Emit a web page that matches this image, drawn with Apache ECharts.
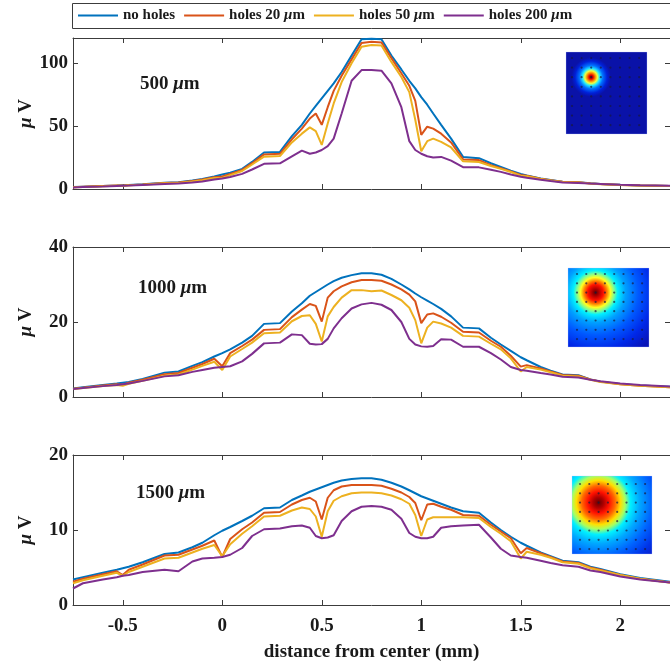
<!DOCTYPE html>
<html>
<head>
<meta charset="utf-8">
<script src="https://cdn.jsdelivr.net/npm/echarts@6/dist/echarts.min.js"></script>
<style>
  html, body { margin: 0; padding: 0; background: #fff; }
  #chart { width: 670px; height: 666px; }
</style>
</head>
<body>
<div id="chart"></div>
<script>
// Sample positions along the line (mm from the electrode-array center)
const distanceMm = [-0.75, -0.7, -0.6, -0.53, -0.5, -0.47, -0.4, -0.29, -0.22, -0.15, -0.1, -0.04,
  0, 0.04, 0.1, 0.15, 0.21, 0.29, 0.35, 0.4, 0.44, 0.47, 0.5, 0.53, 0.56, 0.6, 0.65,
  0.7, 0.75, 0.8, 0.85, 0.9, 0.94, 0.97, 1.0, 1.03, 1.06, 1.1, 1.15, 1.21, 1.29, 1.35,
  1.4, 1.45, 1.5, 1.53, 1.6, 1.65, 1.71, 1.79, 1.85, 1.9, 2.0, 2.1, 2.25];

// Source depth 500 um (uV)
const noHoles500 = [1.5, 1.8, 2.4, 2.8, 3.0, 3.2, 3.8, 5.0, 5.4, 6.8, 8.0, 10.0,
  11.5, 13.0, 16.0, 21.5, 29.0, 29.5, 42.0, 51.0, 60.0, 66.0, 72.0, 78.0, 84.0, 93.0, 106.0,
  119.0, 119.5, 119.0, 106.0, 95.0, 86.0, 80.0, 73.0, 67.0, 60.0, 51.0, 40.0, 25.5, 24.5, 20.5,
  17.5, 14.5, 12.0, 10.8, 8.4, 7.2, 5.8, 5.4, 4.5, 4.0, 3.3, 2.8, 2.3];
const holes20_500 = [1.4, 1.7, 2.3, 2.7, 2.7, 3.0, 3.6, 4.8, 5.1, 6.4, 7.5, 9.3,
  10.0, 12.0, 15.2, 20.5, 27.5, 28.0, 39.5, 48.0, 56.0, 60.0, 51.0, 65.0, 78.0, 90.0, 103.0,
  116.0, 117.0, 116.5, 104.0, 92.0, 82.0, 70.0, 43.0, 49.5, 48.0, 44.0, 37.0, 23.5, 23.0, 19.0,
  16.5, 14.0, 11.2, 10.5, 8.2, 7.0, 5.7, 5.3, 4.4, 3.9, 3.2, 2.8, 2.3];
const holes50_500 = [1.3, 1.6, 2.2, 2.6, 2.4, 2.9, 3.4, 4.5, 4.8, 6.0, 7.0, 8.8,
  8.8, 11.0, 14.3, 19.5, 25.7, 26.2, 37.0, 44.0, 49.0, 46.0, 35.0, 52.0, 68.0, 85.0, 100.0,
  113.0, 114.5, 114.0, 101.0, 89.0, 77.0, 55.0, 30.0, 38.0, 40.0, 37.5, 33.0, 22.0, 21.5, 18.3,
  16.0, 13.5, 10.6, 10.2, 8.0, 6.8, 5.5, 5.2, 4.3, 3.8, 3.2, 2.8, 2.3];
const holes200_500 = [1.2, 1.5, 2.0, 2.4, 2.5, 2.7, 3.2, 4.0, 4.3, 5.2, 6.0, 7.5,
  8.3, 9.5, 12.0, 15.5, 20.0, 20.4, 26.0, 30.5, 28.0, 29.0, 31.0, 34.0, 40.0, 60.0, 86.0,
  94.5, 94.5, 94.0, 84.0, 65.0, 38.0, 31.0, 28.0, 26.0, 25.0, 25.5, 22.5, 17.3, 17.2, 15.3,
  13.6, 11.5, 9.8, 9.0, 7.4, 6.3, 5.2, 4.8, 4.3, 4.0, 3.4, 3.0, 2.6];

// Source depth 1000 um (uV)
const noHoles1000 = [2.3, 2.6, 3.2, 3.6, 3.8, 4.0, 4.8, 6.5, 6.8, 8.3, 9.3, 10.8,
  11.7, 12.7, 14.5, 16.3, 19.5, 19.7, 22.8, 25.0, 27.0, 28.0, 29.0, 30.0, 30.9, 31.8, 32.5,
  33.0, 33.0, 32.6, 31.5, 30.0, 28.7, 27.6, 26.6, 25.7, 24.8, 23.5, 21.5, 18.5, 18.3, 15.8,
  14.0, 12.3, 10.6, 9.8, 8.0, 7.0, 6.0, 5.8, 4.7, 4.1, 3.5, 3.1, 2.7];
const holes20_1000 = [2.2, 2.5, 3.1, 3.4, 3.3, 3.8, 4.6, 6.1, 6.4, 7.8, 8.8, 10.2,
  8.2, 11.7, 13.6, 15.3, 17.9, 18.1, 21.3, 23.3, 24.8, 24.3, 20.1, 26.5, 28.2, 29.5, 30.6,
  31.2, 31.2, 31.0, 30.0, 28.7, 27.3, 25.5, 19.7, 22.0, 22.3, 21.4, 19.8, 17.4, 17.2, 15.0,
  13.4, 11.0, 8.1, 8.5, 7.6, 6.8, 5.9, 5.7, 4.7, 4.1, 3.4, 3.0, 2.6];
const holes50_1000 = [2.1, 2.4, 2.9, 3.2, 3.0, 3.5, 4.3, 5.7, 6.0, 7.3, 8.3, 9.4,
  7.2, 10.8, 12.8, 14.5, 17.0, 17.2, 20.2, 21.6, 21.8, 19.5, 14.8, 21.5, 24.0, 26.5, 28.5,
  28.5, 28.2, 28.4, 27.2, 25.8, 23.8, 20.5, 14.3, 18.5, 20.1, 19.6, 18.5, 16.3, 16.1, 14.2,
  12.7, 10.3, 6.8, 8.0, 7.3, 6.6, 5.7, 5.5, 4.6, 4.0, 3.4, 3.0, 2.6];
const holes200_1000 = [2.1, 2.4, 2.9, 3.2, 3.4, 3.6, 4.3, 5.5, 5.8, 6.7, 7.2, 7.8,
  8.0, 8.2, 9.5, 11.5, 14.3, 14.5, 16.7, 16.5, 14.2, 14.0, 14.1, 15.5, 18.3, 21.0, 23.6,
  24.7, 25.1, 24.6, 23.2, 20.0, 15.5, 14.0, 13.5, 13.4, 13.6, 15.4, 15.3, 13.4, 13.4, 11.7,
  10.0, 8.0, 7.2, 7.0, 6.4, 6.0, 5.4, 5.2, 4.6, 4.2, 3.6, 3.2, 2.8];

// Source depth 1500 um (uV)
const noHoles1500 = [3.4, 3.7, 4.3, 4.7, 4.9, 5.1, 5.7, 6.8, 7.0, 7.7, 8.3, 9.3,
  9.9, 10.4, 11.2, 11.9, 12.9, 13.0, 14.0, 14.6, 15.1, 15.4, 15.7, 16.0, 16.3, 16.6, 16.8,
  16.9, 16.9, 16.7, 16.3, 15.8, 15.3, 14.9, 14.5, 14.2, 13.9, 13.5, 13.0, 12.5, 12.3, 11.0,
  10.0, 9.1, 8.3, 7.9, 7.0, 6.5, 5.9, 5.7, 5.1, 4.8, 4.1, 3.6, 3.1];
const holes20_1500 = [3.1, 3.5, 4.1, 4.5, 4.0, 4.7, 5.4, 6.6, 6.7, 7.4, 7.9, 8.6,
  6.4, 8.8, 10.1, 11.0, 12.3, 12.4, 13.4, 14.0, 14.3, 13.8, 11.4, 14.3, 15.3, 15.8, 16.0,
  16.0, 16.0, 15.9, 15.5, 15.0, 14.4, 13.6, 11.3, 13.4, 13.5, 13.1, 12.7, 12.0, 11.9, 10.7,
  9.8, 8.9, 6.9, 7.6, 6.9, 6.4, 5.8, 5.6, 5.0, 4.7, 4.0, 3.5, 3.0];
const holes50_1500 = [2.9, 3.3, 3.9, 4.3, 3.9, 4.4, 5.1, 6.2, 6.3, 7.0, 7.5, 8.0,
  6.5, 8.1, 9.5, 10.5, 11.8, 11.9, 12.6, 13.0, 12.8, 11.8, 9.1, 12.5, 13.9, 14.5, 14.9,
  15.0, 15.0, 14.9, 14.6, 14.1, 13.5, 12.0, 9.2, 11.4, 11.7, 11.7, 11.7, 11.7, 11.6, 10.4,
  9.5, 8.5, 6.2, 7.1, 6.7, 6.3, 5.7, 5.5, 4.9, 4.6, 4.0, 3.5, 3.0];
const holes200_1500 = [2.2, 2.9, 3.4, 3.7, 3.9, 4.0, 4.4, 4.7, 4.5, 5.8, 6.2, 6.3,
  6.4, 6.7, 7.6, 9.2, 10.1, 10.2, 10.5, 10.6, 10.3, 9.2, 8.9, 9.0, 9.3, 11.2, 12.5,
  13.1, 13.2, 13.1, 12.7, 11.5, 9.6, 9.1, 8.9, 8.9, 9.1, 10.3, 10.5, 10.6, 10.7, 9.0,
  7.5, 6.6, 6.4, 6.3, 5.9, 5.6, 5.3, 5.1, 4.6, 4.4, 3.8, 3.4, 3.0];

const seriesNames = ['no holes', 'holes 20 μm', 'holes 50 μm', 'holes 200 μm'];
const depthLabels = ['500 μm', '1000 μm', '1500 μm'];
const xTickValues = [-0.5, 0, 0.5, 1, 1.5, 2];
const yTicks500 = [0, 50, 100];
const yTicks1000 = [0, 20, 40];
const yTicks1500 = [0, 10, 20];
const yMaxes = [120, 40, 20];

const panelValues = [
  [noHoles500, holes20_500, holes50_500, holes200_500],
  [noHoles1000, holes20_1000, holes50_1000, holes200_1000],
  [noHoles1500, holes20_1500, holes50_1500, holes200_1500]
];
const panelTicks = [yTicks500, yTicks1000, yTicks1500];

const FONT = '"Liberation Serif", "Times New Roman", serif';
const INK = '#1a1a1a';
const AXIS = '#3c3c3c';
const COLORS = ['#0072BD', '#D95319', '#EDB120', '#7E2F8E'];
const italicMu = { fontFamily: FONT, fontWeight: 'bold', fontStyle: 'italic', color: INK };

const gridBoxes = [
  { left: 73, top: 38, width: 601, height: 151 },
  { left: 73, top: 247, width: 601, height: 150 },
  { left: 73, top: 455, width: 601, height: 150 }
];

const grid = gridBoxes.map(g => Object.assign({ containLabel: false }, g));
const xAxis = [];
const yAxis = [];
const series = [];

gridBoxes.forEach((g, p) => {
  const isLast = p === gridBoxes.length - 1;
  const common = {
    gridIndex: p, type: 'value', min: -0.75, max: 2.25,
    splitLine: { show: false },
    axisLine: { show: true, onZero: false, lineStyle: { color: AXIS, width: 1 } },
    axisTick: { show: true, inside: true, length: 5, customValues: xTickValues, lineStyle: { color: AXIS } }
  };
  xAxis.push(Object.assign({}, common, {
    position: 'bottom',
    axisLabel: {
      show: isLast, customValues: xTickValues, margin: 12,
      fontFamily: FONT, fontWeight: 'bold', fontSize: 19, color: INK
    },
    name: isLast ? 'distance from center (mm)' : '',
    nameLocation: 'middle', nameGap: 38, nameMoveOverlap: false,
    nameTextStyle: { fontFamily: FONT, fontWeight: 'bold', fontSize: 19, color: INK }
  }));
  xAxis.push(Object.assign({}, common, { position: 'top', axisLabel: { show: false } }));

  const yCommon = {
    gridIndex: p, type: 'value', min: 0, max: yMaxes[p],
    splitLine: { show: false },
    axisLine: { show: true, onZero: false, lineStyle: { color: AXIS, width: 1 } },
    axisTick: { show: true, inside: true, length: 5, customValues: panelTicks[p], lineStyle: { color: AXIS } }
  };
  yAxis.push(Object.assign({}, yCommon, {
    position: 'left',
    axisLabel: {
      customValues: panelTicks[p], margin: 5,
      fontFamily: FONT, fontWeight: 'bold', fontSize: 19, color: INK
    },
    name: '{i|μ} V', nameLocation: 'middle', nameGap: 37, nameRotate: 90, nameMoveOverlap: false,
    nameTextStyle: {
      fontFamily: FONT, fontWeight: 'bold', fontSize: 19, color: INK,
      rich: { i: Object.assign({ fontSize: 19 }, italicMu) }
    }
  }));
  yAxis.push(Object.assign({}, yCommon, { position: 'right', axisLabel: { show: false } }));

  panelValues[p].forEach((vals, s) => {
    series.push({
      name: seriesNames[s],
      type: 'line',
      xAxisIndex: p * 2,
      yAxisIndex: p * 2,
      data: distanceMm.map((x, k) => [x, vals[k]]),
      showSymbol: false,
      symbol: 'none',
      clip: true,
      color: COLORS[s],
      lineStyle: { width: 2, color: COLORS[s] },
      emphasis: { disabled: true },
      animation: false
    });
  });
});

// Field-map thumbnails (jet-coloured potential over the electrode grid)
const insets = [
  { x: 566, y: 52, w: 81, h: 82, dx: 6, dy: 6, step: 9.6, r: 0.24,
    stops: [[0, '#700000'], [0.1, '#e00000'], [0.22, '#ff9000'], [0.32, '#f0ff40'],
            [0.44, '#20e8ff'], [0.6, '#0070ff'], [0.82, '#0020d8'], [1, '#0a12a8']] },
  { x: 568, y: 268, w: 81, h: 79, dx: 9, dy: 6, step: 9.3, r: 0.9,
    stops: [[0, '#600000'], [0.05, '#b00000'], [0.11, '#ff1000'], [0.16, '#ff8000'],
            [0.21, '#ffff20'], [0.26, '#80ff90'], [0.31, '#00f0ff'], [0.42, '#00a0ff'],
            [0.6, '#0058ff'], [0.8, '#0028e8'], [1, '#0814b8']] },
  { x: 572, y: 476, w: 80, h: 78, dx: 8, dy: 8, step: 9.3, r: 0.97,
    stops: [[0, '#680000'], [0.07, '#b00000'], [0.14, '#ff1000'], [0.22, '#ff6a00'],
            [0.29, '#ffe000'], [0.35, '#a8ff60'], [0.42, '#00f0ff'], [0.54, '#00a8ff'],
            [0.7, '#0064ff'], [0.86, '#0034e8'], [1, '#0a1cc8']] }
];

const graphic = [];
insets.forEach(ins => {
  const hx = ins.dx + 2 * ins.step, hy = ins.dy + 2 * ins.step;
  const children = [{
    type: 'rect',
    shape: { x: 0, y: 0, width: ins.w, height: ins.h },
    style: {
      fill: new echarts.graphic.RadialGradient(hx / ins.w, hy / ins.h, ins.r,
        ins.stops.map(s => ({ offset: s[0], color: s[1] }))),
      stroke: 'rgba(190,200,255,0.6)', lineWidth: 0.5
    }
  }];
  for (let i = 0; i < 8; i++) {
    for (let j = 0; j < 8; j++) {
      children.push({
        type: 'circle',
        shape: { cx: ins.dx + i * ins.step, cy: ins.dy + j * ins.step, r: 1.1 },
        style: { fill: 'rgba(25,25,60,0.7)' }
      });
    }
  }
  graphic.push({ type: 'group', x: ins.x, y: ins.y, z: 10, children });
});

// Depth labels inside each panel
const labelPos = [[140, 84], [138, 288], [136, 493]];
depthLabels.forEach((t, p) => {
  graphic.push({
    type: 'text', x: labelPos[p][0], y: labelPos[p][1], z: 10,
    style: {
      text: t.replace('μ', '{i|μ}'),
      font: 'bold 19px ' + FONT, fill: INK, verticalAlign: 'middle',
      rich: { i: Object.assign({ fontSize: 19 }, italicMu) }
    }
  });
});

// Legend frame
graphic.push({
  type: 'rect', z: 5,
  shape: { x: 72.5, y: 3.5, width: 610, height: 25 },
  style: { fill: 'none', stroke: AXIS, lineWidth: 1 }
});

const chart = echarts.init(document.getElementById('chart'), null, { renderer: 'canvas' });
chart.setOption({
  backgroundColor: '#ffffff',
  animation: false,
  grid, xAxis, yAxis, series, graphic,
  legend: {
    data: seriesNames,
    left: 78, top: 8, padding: 0,
    icon: 'rect', itemWidth: 40, itemHeight: 2, itemGap: 9,
    selectedMode: false,
    formatter: name => name.replace('μ', '{i|μ}'),
    textStyle: {
      fontFamily: FONT, fontWeight: 'bold', fontSize: 15, color: INK,
      rich: { i: Object.assign({ fontSize: 15 }, italicMu) }
    }
  }
});
</script>
</body>
</html>
